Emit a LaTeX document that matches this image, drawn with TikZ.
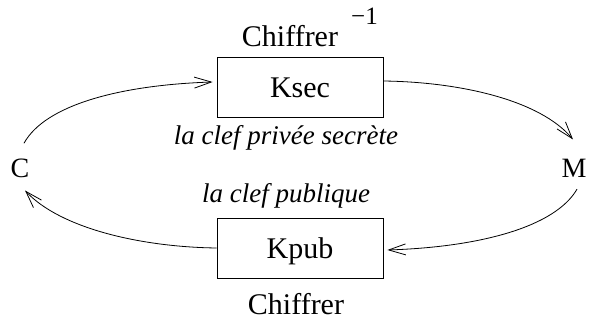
\documentclass[tikz,border=0pt]{standalone}
\usepackage{fontspec}
\setmainfont{Liberation Serif}
\usetikzlibrary{arrows.meta}
\begin{document}
\begin{tikzpicture}[x=1pt,y=-1pt,
  keybox/.style={draw,line width=0.8pt,minimum width=166pt,minimum height=60pt,inner sep=0pt,
    text height=20pt,text depth=0pt,font=\fontsize{30}{36}\selectfont},
  lbl/.style={anchor=base,inner sep=0pt,font=\fontsize{30}{36}\selectfont},
  small/.style={anchor=base,inner sep=0pt,font=\fontsize{25}{30}\selectfont},
  pole/.style={anchor=base,inner sep=0pt,font=\fontsize{28}{33}\selectfont},
  key/.style={anchor=base,inner sep=0pt,font=\fontsize{27}{32}\selectfont\itshape},
  arr/.style={line width=0.8pt,-{Straight Barb[length=17pt,width=11pt,line width=0.8pt]}}]
\useasboundingbox (0,0) rectangle (590,321);
\node[keybox] (ksec) at (300,87.5) {Ksec};
\node[keybox] (kpub) at (300,248) {Kpub};
\node[lbl] (chif1) at (290,47) {Chiffrer};
\node[small,anchor=base west] (inv) at (351,25) {−1};
\node[lbl] (chif2) at (296,314) {Chiffrer};
\node[key] (priv) at (286,145) {la clef privée secrète};
\node[key] (pub) at (286,202) {la clef publique};
\node[pole] (C) at (20,178) {C};
\node[pole] (M) at (574,178) {M};
\draw[arr] ([shift={(4,-16)}]C.north) .. controls (45,105) and (120,85) .. ([shift={(-4,-5.5)}]ksec.west);
\draw[arr] ([shift={(0,-6.5)}]ksec.east) .. controls (460,82) and (540,100) .. ([shift={(-1,-20)}]M.north);
\draw[arr] ([shift={(3,11)}]M.south) .. controls (555,227) and (480,247) .. ([shift={(4,2)}]kpub.east);
\draw[arr] (kpub.west) .. controls (140,247) and (60,228) .. ([shift={(5,12)}]C.south);
\end{tikzpicture}
\end{document}
